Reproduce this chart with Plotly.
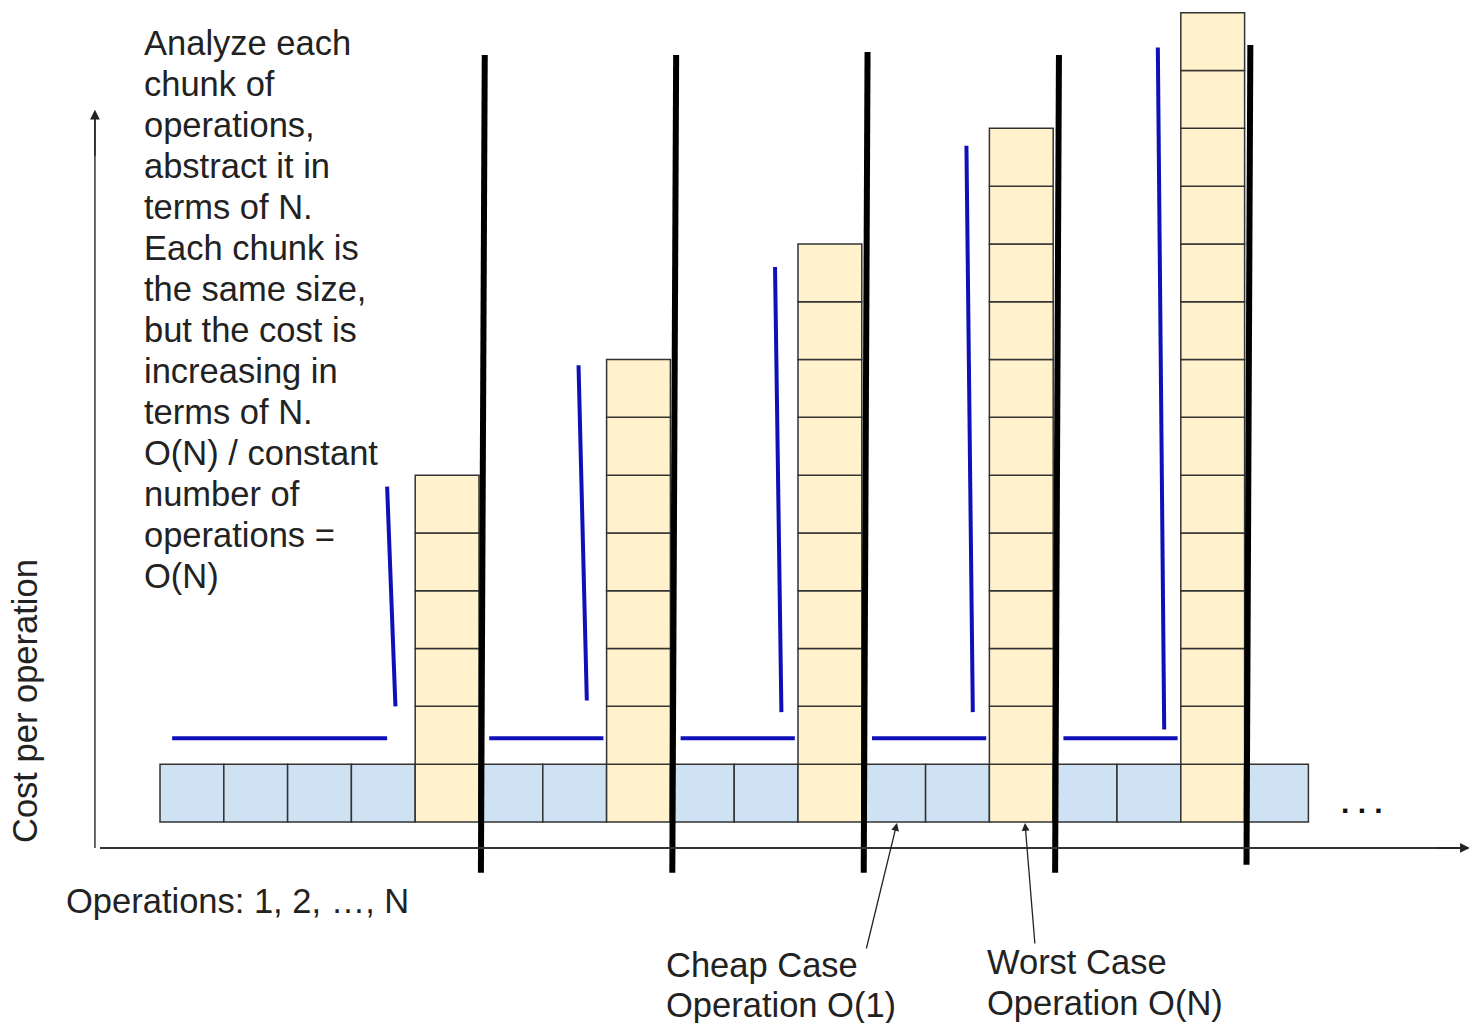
import plotly.graph_objects as go

# ---- data ----
costs = [1, 1, 1, 1, 6, 1, 1, 8, 1, 1, 10, 1, 1, 12, 1, 1, 14, 1]   # cost of each operation
cheap_level = 1.45                                                  # level of the blue "cheap" line
amort_top = [5.8, 7.9, 9.6, 11.7, 13.4]                             # top of each blue rising line
amort_bottom = [2.0, 2.1, 1.9, 1.9, 1.6]                            # bottom of each blue rising line
divider_top = [13.27, 13.27, 13.32, 13.27, 13.44]
divider_bottom = [-0.88, -0.88, -0.88, -0.88, -0.74]

main_lines = ["Analyze each", "chunk of", "operations,", "abstract it in", "terms of N.",
              "Each chunk is", "the same size,", "but the cost is", "increasing in",
              "terms of N.", "O(N) / constant", "number of", "operations =", "O(N)"]
x_label = "Operations: 1, 2, …, N"
y_label = "Cost per operation"
cheap_lines = ["Cheap Case", "Operation O(1)"]
worst_lines = ["Worst Case", "Operation O(N)"]

# ---- styles ----
YELLOW = "#FFF2CC"
BLUE = "#CFE2F3"
CELL_LINE = "#333333"
LINE_BLUE = "#1010B8"
FONT = "Liberation Sans, Arial, sans-serif"
FS = 34.5
TXT = "#222222"

W, H = 1473, 1023
XR = [-3.008, 20.08]
YR = [-3.478, 14.22]

def px(xp):  # pixel -> paper x
    return xp / W

def py(yp):  # pixel -> paper y
    return 1 - yp / H

def pxx(xp):  # pixel -> data x
    return XR[0] + (XR[1] - XR[0]) * xp / W

def pyy(yp):  # pixel -> data y
    return YR[1] - (YR[1] - YR[0]) * yp / H

# build unit cells
bx, bbase, bcol = [], [], []
for i, c in enumerate(costs):
    for k in range(c):
        bx.append(i)
        bbase.append(k)
        bcol.append(YELLOW if c > 1 else BLUE)

fig = go.Figure()
fig.add_trace(go.Bar(
    x=bx, y=[1] * len(bx), base=bbase, width=1,
    marker=dict(color=bcol, line=dict(color=CELL_LINE, width=1.5)),
    hoverinfo="skip", showlegend=False,
))

shapes = []
expensive = [i for i, c in enumerate(costs) if c > 1]
starts = [0] + [e + 1 for e in expensive[:-1]]
for n, e in enumerate(expensive):
    left_edge = e - 0.5
    x0 = starts[n] - 0.5 + (0.19 if n == 0 else 0.16)
    x1 = left_edge - (0.44 if n == 0 else 0.05)
    shapes.append(dict(type="line", x0=x0, x1=x1, y0=cheap_level, y1=cheap_level,
                       line=dict(color=LINE_BLUE, width=4)))
    top_off, bot_off = (0.44, 0.31) if n < 2 else (0.36, 0.26)
    shapes.append(dict(type="line", x0=left_edge - top_off, x1=left_edge - bot_off,
                       y0=amort_top[n], y1=amort_bottom[n],
                       line=dict(color=LINE_BLUE, width=4)))
    shapes.append(dict(type="line", x0=e + 0.5 + 0.09, x1=e + 0.5 + 0.03,
                       y0=divider_top[n], y1=divider_bottom[n],
                       line=dict(color="black", width=6)))

# axes lines
shapes.append(dict(type="line", x0=-1.44, x1=19.9, y0=-0.45, y1=-0.45,
                   line=dict(color="#333333", width=2)))
shapes.append(dict(type="line", x0=-1.52, x1=-1.52, y0=-0.45, y1=12.2,
                   line=dict(color="#333333", width=1.5)))

annotations = []
annotations.append(dict(x=20.03, y=-0.45, ax=19.5, ay=-0.45, xref="x", yref="y",
                        axref="x", ayref="y", text="", showarrow=True,
                        arrowhead=2, arrowsize=1.3, arrowwidth=1.5, arrowcolor="#222222"))
annotations.append(dict(x=-1.52, y=12.32, ax=-1.52, ay=11.5, xref="x", yref="y",
                        axref="x", ayref="y", text="", showarrow=True,
                        arrowhead=2, arrowsize=1.3, arrowwidth=1.5, arrowcolor="#222222"))

def text_at(x, y, s, **kw):
    d = dict(x=px(x), y=py(y), xref="paper", yref="paper", text=s, showarrow=False,
             xanchor="left", yanchor="middle", align="left",
             font=dict(family=FONT, size=FS, color=TXT))
    d.update(kw)
    annotations.append(d)

for k, line in enumerate(main_lines):
    text_at(142, 43 + 41 * k, line)
text_at(64, 901, x_label)
text_at(25, 701, y_label, xanchor="center", textangle=-90)
text_at(1362, 802, "<b>. . .</b>", xanchor="center",
        font=dict(family=FONT, size=30, color="#111111"))
for k, line in enumerate(cheap_lines):
    text_at(664, 965 + 40 * k, line)
for k, line in enumerate(worst_lines):
    text_at(985, 962 + 41 * k, line)

annotations.append(dict(x=pxx(897), y=pyy(823), ax=pxx(866), ay=pyy(950), xref="x", yref="y",
                        axref="x", ayref="y", text="", showarrow=True, arrowhead=2,
                        arrowsize=1.2, arrowwidth=1.3, arrowcolor="#222222"))
annotations.append(dict(x=pxx(1025), y=pyy(823), ax=pxx(1035), ay=pyy(945), xref="x", yref="y",
                        axref="x", ayref="y", text="", showarrow=True, arrowhead=2,
                        arrowsize=1.2, arrowwidth=1.3, arrowcolor="#222222"))

fig.update_layout(
    width=W, height=H,
    margin=dict(l=0, r=0, t=0, b=0),
    paper_bgcolor="white", plot_bgcolor="white",
    xaxis=dict(range=XR, visible=False, fixedrange=True),
    yaxis=dict(range=YR, visible=False, fixedrange=True),
    barmode="overlay",
    shapes=shapes,
    annotations=annotations,
    showlegend=False,
)

fig.write_html("out.html", config={"displayModeBar": False},
               post_script="document.body.style.margin='0';document.body.style.overflow='hidden';")
